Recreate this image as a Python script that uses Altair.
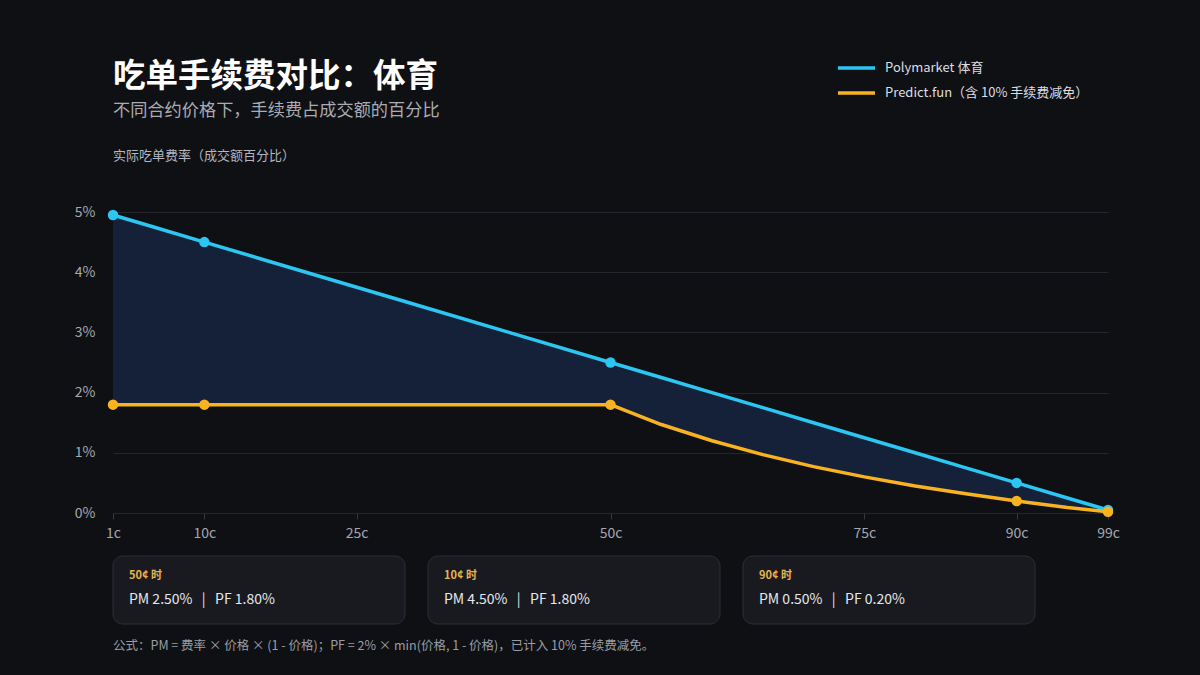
import altair as alt
import pandas as pd

# ---- data ----
cents = [1, 5, 10, 20, 30, 40, 50, 55, 60, 65, 70, 75, 80, 85, 90, 95, 99]
pm_rate = [4.95, 4.75, 4.50, 4.00, 3.50, 3.00, 2.50, 2.25, 2.00, 1.75, 1.50, 1.25, 1.00, 0.75, 0.50, 0.25, 0.05]
pf_rate = [1.80, 1.80, 1.80, 1.80, 1.80, 1.80, 1.80, 1.47, 1.20, 0.97, 0.77, 0.60, 0.45, 0.32, 0.20, 0.09, 0.02]
marker_cents = [1, 10, 50, 90, 99]
series_names = ["Polymarket 体育", "Predict.fun（含 10% 手续费减免）"]
series_colors = ["#2cc6f2", "#f9b320"]
x_ticks = [1, 10, 25, 50, 75, 90, 99]
y_ticks = [0, 1, 2, 3, 4, 5]

card_labels = ["50¢ 时", "10¢ 时", "90¢ 时"]
card_pm = ["2.50%", "4.50%", "0.50%"]
card_pf = ["1.80%", "1.80%", "0.20%"]

title_text = "吃单手续费对比：体育"
subtitle_text = "不同合约价格下，手续费占成交额的百分比"
ytitle_text = "实际吃单费率（成交额百分比）"
footnote_text = "公式：PM = 费率 × 价格 × (1 - 价格)；PF = 2% × min(价格, 1 - 价格)，已计入 10% 手续费减免。"

FONT = "Noto Sans CJK SC"
BG = "#0f1014"
NB = "\u00a0"

wide = pd.DataFrame({"cents": cents, "pm": pm_rate, "pf": pf_rate})
long = pd.concat([
    pd.DataFrame({"cents": cents, "value": pm_rate, "series": series_names[0], "order": 0}),
    pd.DataFrame({"cents": cents, "value": pf_rate, "series": series_names[1], "order": 1}),
])
marks_df = long[long["cents"].isin(marker_cents)]

xscale = alt.Scale(domain=[1, 99], nice=False, zero=False)
yscale = alt.Scale(domain=[0, 5], nice=False)
cscale = alt.Scale(domain=series_names, range=series_colors)

x_enc = alt.X("cents:Q", scale=xscale, title=None,
              axis=alt.Axis(values=x_ticks, labelExpr="datum.value + 'c'", grid=False,
                            domain=False, tickColor="#34373e", tickSize=6, labelColor="#a5a8b0",
                            labelFontSize=14, labelFont=FONT, labelPadding=7, labelFlush=False,
                            labelOverlap=False))

area = alt.Chart(wide).mark_area(color="#152039", opacity=1).encode(
    x=x_enc,
    y=alt.Y("pm:Q", scale=yscale, title=None,
            axis=alt.Axis(values=y_ticks, labelExpr="datum.value + '%'", grid=True,
                          gridColor="#24262d", domain=False, ticks=False, labelColor="#a5a8b0",
                          labelFontSize=14, labelFont=FONT, labelPadding=18)),
    y2="pf:Q",
)

lines = alt.Chart(long).mark_line(strokeWidth=3.5, strokeCap="round", strokeJoin="round").encode(
    x=alt.X("cents:Q", scale=xscale),
    y=alt.Y("value:Q", scale=yscale),
    color=alt.Color("series:N", scale=cscale, legend=None),
    order=alt.Order("order:Q"),
    detail="series:N",
)

points = alt.Chart(marks_df).mark_point(filled=True, size=110, opacity=1).encode(
    x=alt.X("cents:Q", scale=xscale),
    y=alt.Y("value:Q", scale=yscale),
    color=alt.Color("series:N", scale=cscale, legend=None),
)

layers = [area, lines, points]


def text_layer(txt, x, y, size, color, weight="normal", baseline="middle"):
    return alt.Chart(pd.DataFrame({"t": [txt]})).mark_text(
        align="left", baseline=baseline, font=FONT, fontSize=size, color=color, fontWeight=weight
    ).encode(text="t:N", x=alt.value(x), y=alt.value(y))


# titles (plot origin is at 113, 212)
layers.append(text_layer(title_text, 0, -135, 32.5, "#ffffff", "bold"))
layers.append(text_layer(subtitle_text, 0, -101, 17.2, "#a9acb3"))
layers.append(text_layer(ytitle_text, 0, -56, 13, "#b4b7be"))

# legend
for i, (name, col) in enumerate(zip(series_names, series_colors)):
    ly = -144 + i * 25
    layers.append(alt.Chart(pd.DataFrame({"s": [name]})).mark_rule(
        color=col, strokeWidth=3.5).encode(x=alt.value(725), x2=alt.value(762), y=alt.value(ly)))
    layers.append(text_layer(name, 772, ly, 13, "#dcdee3"))

# cards
for i, (lab, pm, pf) in enumerate(zip(card_labels, card_pm, card_pf)):
    x0 = i * 315
    layers.append(alt.Chart(pd.DataFrame({"k": [lab]})).mark_rect(
        fill="#181a20", stroke="#2b2e36", strokeWidth=1, cornerRadius=10).encode(
        x=alt.value(x0), x2=alt.value(x0 + 292), y=alt.value(344), y2=alt.value(412)))
    layers.append(text_layer(lab, x0 + 16, 364, 11, "#e8b450", "bold"))
    layers.append(text_layer(f"PM{NB}{pm}{NB}{NB}{NB}|{NB}{NB}{NB}PF{NB}{pf}", x0 + 16, 388, 14, "#e6e8ec"))

layers.append(text_layer(footnote_text, 0, 434, 12.5, "#9a9da5"))

chart = alt.layer(*layers).properties(
    width=995, height=301,
    autosize=alt.AutoSizeParams(type="none"),
    padding={"left": 113, "top": 212, "right": 92, "bottom": 162},
    background=BG,
).configure_view(stroke=None)

chart.save("out.html", embed_options={"renderer": "svg", "actions": False})
